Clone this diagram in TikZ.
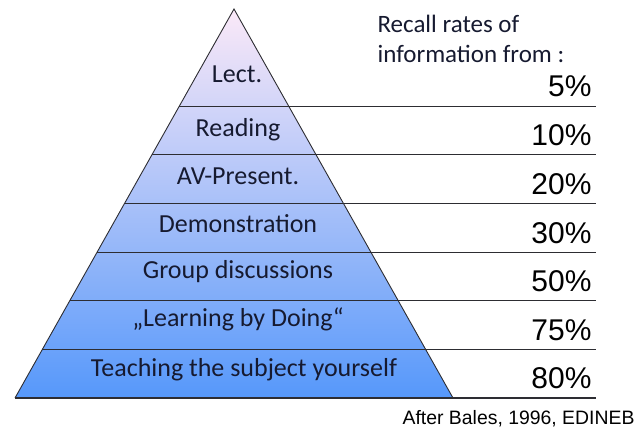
\documentclass[tikz,border=0pt]{standalone}
\usepackage{fontspec}
\setmainfont{Carlito}
\newfontfamily\arialfont{Liberation Sans}
\usetikzlibrary{calc}

\definecolor{tiptop}{RGB}{251,233,248}
\definecolor{tipbase}{RGB}{86,152,250}
\definecolor{labeltext}{RGB}{22,26,48}
\definecolor{rulegray}{RGB}{45,45,50}

\tikzset{
  band/.style={font=\fontsize{26}{30}\selectfont, text=labeltext, anchor=base},
  rate/.style={font=\arialfont\fontsize{30}{33}\selectfont, anchor=base east},
  rule/.style={draw=rulegray, line width=1.2pt},
}

\begin{document}
\begin{tikzpicture}[x=1pt,y=-1pt]
		\useasboundingbox (0,0) rectangle (638,430);
		\coordinate (A) at (234,9);
		\coordinate (B) at (15,398);
		\coordinate (C) at (453,398);
		\coordinate (R) at (596,0);
		% levels on the left side
		\coordinate (L1) at ($(A)!0.25!(B)$);
		\coordinate (L2) at ($(A)!0.375!(B)$);
		\coordinate (L3) at ($(A)!0.5!(B)$);
		\coordinate (L4) at ($(A)!0.625!(B)$);
		\coordinate (L5) at ($(A)!0.75!(B)$);
		\coordinate (L6) at ($(A)!0.875!(B)$);
		\coordinate (L7) at (B);
		\shade[top color=tiptop, bottom color=tipbase] (A)--(B)--(C)--cycle;
		\draw[draw=rulegray, line width=0.9pt] (B)--(A)--(C);
		\foreach \l in {L1,L2,L3,L4,L5,L6,L7}
			\draw[rule] (\l) -- (\l -| R);
		% labels inside the pyramid
		\node[band] (lect) at (237,83) {Lect.};
		\node[band] (read) at (238,137) {Reading};
		\node[band] (av) at (238,185) {AV-Present.};
		\node[band] (demo) at (238,233) {Demonstration};
		\node[band] (group) at (238,279) {Group discussions};
		\node[band] (doing) at (238,327) {„Learning by Doing“};
		\node[band] (teach) at (244,377) {Teaching the subject yourself};
		% recall rates
		\node[font=\fontsize{25}{30}\selectfont, text=labeltext, align=left, anchor=north west] (head) at (374,12) {Recall rates of\\information from :};
		\node[rate] (p1) at ($(L1 -| R)+(-1,-10)$) {5\%};
		\node[rate] (p2) at ($(L2 -| R)+(-1,-9)$) {10\%};
		\node[rate] (p3) at ($(L3 -| R)+(-1,-9)$) {20\%};
		\node[rate] (p4) at ($(L4 -| R)+(-1,-9)$) {30\%};
		\node[rate] (p5) at ($(L5 -| R)+(-1,-9)$) {50\%};
		\node[rate] (p6) at ($(L6 -| R)+(-1,-9)$) {75\%};
		\node[rate] (p7) at ($(L7 -| R)+(-1,-9)$) {80\%};
		\node[font=\arialfont\fontsize{19.4}{22}\selectfont, anchor=base east] (src) at (638,425) {After Bales, 1996, EDINEB};
	\end{tikzpicture}
\end{document}
